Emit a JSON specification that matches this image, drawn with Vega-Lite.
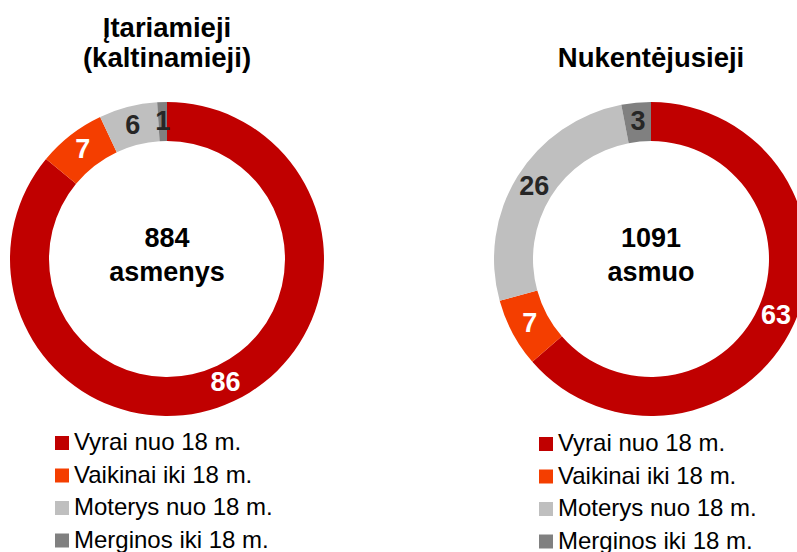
{
  "$schema": "https://vega.github.io/schema/vega-lite/v6.json",
  "background": "white",
  "padding": {"left": 10, "top": 14, "right": 0, "bottom": 0},
  "config": {
    "view": {"stroke": null},
    "font": "Liberation Sans",
    "title": {"fontSize": 27.5, "fontWeight": "bold", "color": "#000000", "lineHeight": 30, "offset": 30, "anchor": "middle", "font": "Liberation Sans"},
    "legend": {
      "orient": "none",
      "title": null,
      "symbolType": "square",
      "symbolSize": 196,
      "symbolStrokeWidth": 0,
      "labelFontSize": 24,
      "labelFont": "Liberation Sans",
      "labelColor": "#000000",
      "labelOffset": 0,
      "labelLimit": 0,
      "rowPadding": 8.5,
      "padding": 0
    }
  },
  "datasets": {
    "rows": [
      {"group": "L", "category": "Vyrai nuo 18 m.", "value": 86},
      {"group": "L", "category": "Vaikinai iki 18 m.", "value": 7},
      {"group": "L", "category": "Moterys nuo 18 m.", "value": 6},
      {"group": "L", "category": "Merginos iki 18 m.", "value": 1},
      {"group": "R", "category": "Vyrai nuo 18 m.", "value": 63},
      {"group": "R", "category": "Vaikinai iki 18 m.", "value": 7},
      {"group": "R", "category": "Moterys nuo 18 m.", "value": 26},
      {"group": "R", "category": "Merginos iki 18 m.", "value": 3}
    ],
    "centers": [
      {"group": "L", "c": "884\nasmenys"},
      {"group": "R", "c": "1091\nasmuo"}
    ]
  },
  "spacing": 170,
  "bounds": "flush",
  "resolve": {"scale": {"color": "independent", "theta": "independent"}, "legend": {"color": "independent"}},
  "hconcat": [
    {
      "width": 314,
      "height": 314,
      "title": {"text": ["Įtariamieji", "(kaltinamieji)"]},
      "layer": [
        {
          "data": {"name": "rows"},
          "transform": [{"filter": "datum.group === 'L'"}],
          "mark": {"type": "arc", "innerRadius": 118, "outerRadius": 157},
          "encoding": {
            "theta": {"field": "value", "type": "quantitative", "stack": true},
            "order": {"field": "category", "sort": "descending"},
            "color": {
              "field": "category", "type": "nominal",
              "scale": {"domain": ["Vyrai nuo 18 m.", "Vaikinai iki 18 m.", "Moterys nuo 18 m.", "Merginos iki 18 m."], "range": ["#C00000", "#F43E00", "#BFBFBF", "#808080"]},
              "legend": {"legendX": 40, "legendY": 329}
            }
          }
        },
        {
          "data": {"name": "rows"},
          "transform": [{"filter": "datum.group === 'L'"}],
          "mark": {"type": "text", "radius": 137.5, "fontSize": 27, "fontWeight": "bold", "font": "Liberation Sans"},
          "encoding": {
            "theta": {"field": "value", "type": "quantitative", "stack": true},
            "order": {"field": "category", "sort": "descending"},
            "text": {"field": "value", "type": "quantitative"},
            "color": {"condition": {"test": "datum.category === 'Moterys nuo 18 m.' || datum.category === 'Merginos iki 18 m.'", "value": "#262626"}, "value": "#ffffff"}
          }
        },
        {
          "data": {"name": "centers"},
          "transform": [{"filter": "datum.group === 'L'"}],
          "mark": {"type": "text", "lineBreak": "\n", "lineHeight": 34, "fontSize": 27, "fontWeight": "bold", "font": "Liberation Sans", "color": "#000000", "baseline": "middle", "dy": -20},
          "encoding": {"text": {"field": "c", "type": "nominal"}}
        }
      ]
    },
    {
      "width": 314,
      "height": 314,
      "title": {"text": "Nukentėjusieji"},
      "layer": [
        {
          "data": {"name": "rows"},
          "transform": [{"filter": "datum.group === 'R'"}],
          "mark": {"type": "arc", "innerRadius": 118, "outerRadius": 157},
          "encoding": {
            "theta": {"field": "value", "type": "quantitative", "stack": true},
            "order": {"field": "category", "sort": "descending"},
            "color": {
              "field": "category", "type": "nominal",
              "scale": {"domain": ["Vyrai nuo 18 m.", "Vaikinai iki 18 m.", "Moterys nuo 18 m.", "Merginos iki 18 m."], "range": ["#C00000", "#F43E00", "#BFBFBF", "#808080"]},
              "legend": {"legendX": 40, "legendY": 330}
            }
          }
        },
        {
          "data": {"name": "rows"},
          "transform": [{"filter": "datum.group === 'R'"}],
          "mark": {"type": "text", "radius": 137.5, "fontSize": 27, "fontWeight": "bold", "font": "Liberation Sans"},
          "encoding": {
            "theta": {"field": "value", "type": "quantitative", "stack": true},
            "order": {"field": "category", "sort": "descending"},
            "text": {"field": "value", "type": "quantitative"},
            "color": {"condition": {"test": "datum.category === 'Moterys nuo 18 m.' || datum.category === 'Merginos iki 18 m.'", "value": "#262626"}, "value": "#ffffff"}
          }
        },
        {
          "data": {"name": "centers"},
          "transform": [{"filter": "datum.group === 'R'"}],
          "mark": {"type": "text", "lineBreak": "\n", "lineHeight": 34, "fontSize": 27, "fontWeight": "bold", "font": "Liberation Sans", "color": "#000000", "baseline": "middle", "dy": -20},
          "encoding": {"text": {"field": "c", "type": "nominal"}}
        }
      ]
    }
  ]
}
